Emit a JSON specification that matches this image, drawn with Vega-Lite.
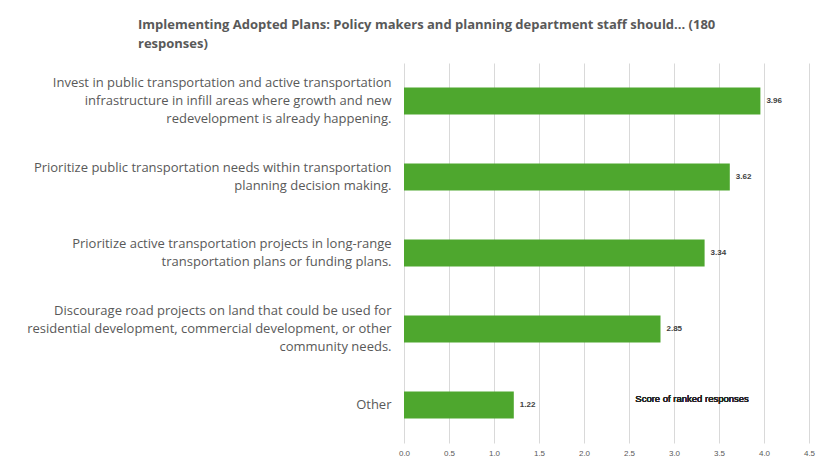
{
  "$schema": "https://vega.github.io/schema/vega-lite/v6.json",
  "autosize": {"type": "none"},
  "width": 405,
  "height": 380,
  "padding": {"left": 404, "top": 63, "right": 21, "bottom": 21},
  "background": "white",
  "config": {"view": {"stroke": null}, "font": "Open Sans"},
  "title": {
    "text": ["Implementing Adopted Plans: Policy makers and planning department staff should... (180", "responses)"],
    "anchor": "start",
    "frame": "group",
    "dx": -266,
    "offset": 12,
    "font": "Open Sans",
    "fontSize": 13,
    "fontWeight": "bold",
    "color": "#595959",
    "lineHeight": 19
  },
  "data": {
    "values": [
      {"label": "Invest in public transportation and active transportation|infrastructure in infill areas where growth and new|redevelopment is already happening.", "score": 3.96},
      {"label": "Prioritize public transportation needs within transportation|planning decision making.", "score": 3.62},
      {"label": "Prioritize active transportation projects in long-range|transportation plans or funding plans.", "score": 3.34},
      {"label": "Discourage road projects on land that could be used for|residential development, commercial development, or other|community needs.", "score": 2.85},
      {"label": "Other", "score": 1.22}
    ]
  },
  "encoding": {
    "y": {
      "field": "label",
      "type": "nominal",
      "sort": null,
      "scale": {"paddingInner": 0.645, "paddingOuter": 0.3225},
      "axis": {
        "title": null,
        "domain": false,
        "ticks": false,
        "labelExpr": "split(datum.label, '|')",
        "labelFont": "Open Sans",
        "labelFontSize": 13,
        "labelColor": "#595959",
        "labelLineHeight": 18,
        "labelPadding": 13,
        "labelLimit": 420,
        "labelAlign": "right",
        "labelOffset": {
          "condition": [
            {"test": "length(split(datum.value, '|')) == 3", "value": -18},
            {"test": "length(split(datum.value, '|')) == 2", "value": -9}
          ],
          "value": 0
        }
      }
    }
  },
  "layer": [
    {
      "mark": {"type": "bar", "color": "#4ea72e"},
      "encoding": {
        "x": {
          "field": "score",
          "type": "quantitative",
          "scale": {"domain": [0, 4.5], "nice": false},
          "axis": {
            "title": null,
            "values": [0, 0.5, 1, 1.5, 2, 2.5, 3, 3.5, 4, 4.5],
            "domain": false,
            "ticks": false,
            "grid": true,
            "gridColor": "#d9d9d9",
            "gridWidth": 1,
            "labelFont": "Liberation Sans",
            "labelFontSize": 8,
            "labelColor": "#595959",
            "labelPadding": 6,
            "labelFlush": false
          }
        }
      }
    },
    {
      "mark": {"type": "text", "align": "left", "dx": 6, "fontSize": 8, "fontWeight": "bold", "color": "#404040", "font": "Liberation Sans"},
      "encoding": {
        "x": {"field": "score", "type": "quantitative"},
        "text": {"field": "score", "type": "quantitative", "format": ".2f"}
      }
    },
    {
      "mark": {"type": "text", "align": "left", "dy": -6, "fontSize": 9.5, "color": "#262626", "font": "Liberation Sans"},
      "encoding": {
        "x": {"datum": 2.57},
        "y": {"datum": "Other"},
        "text": {"value": "Score of ranked responses"}
      }
    }
  ]
}
